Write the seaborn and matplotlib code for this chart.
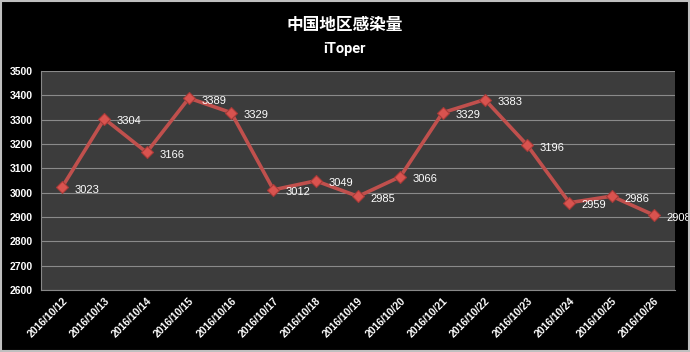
import matplotlib
matplotlib.use("Agg")
import matplotlib.pyplot as plt
import seaborn as sns
import pandas as pd
import numpy as np

dates = ["2016/10/12", "2016/10/13", "2016/10/14", "2016/10/15", "2016/10/16",
         "2016/10/17", "2016/10/18", "2016/10/19", "2016/10/20", "2016/10/21",
         "2016/10/22", "2016/10/23", "2016/10/24", "2016/10/25", "2016/10/26"]
values = [3023, 3304, 3166, 3389, 3329, 3012, 3049, 2985, 3066, 3329,
          3383, 3196, 2959, 2986, 2908]
yticks = [2600, 2700, 2800, 2900, 3000, 3100, 3200, 3300, 3400, 3500]
title = "中国地区感染量"
subtitle = "iToper"

sns.set_theme(style="dark")
plt.rcParams['font.family'] = ['Noto Sans CJK SC', 'DejaVu Sans']

df = pd.DataFrame({"date": dates, "value": values, "idx": np.arange(len(dates))})

fig = plt.figure(figsize=(6.9, 3.52), dpi=100, facecolor="black")
ax = fig.add_axes([0.0594, 0.176, 0.919, 0.622])
ax.set_facecolor("#3c3c3c")

sns.lineplot(data=df, x="idx", y="value", ax=ax, color="#c0504d", linewidth=2.6,
             marker="D", markersize=6.5, markeredgecolor="#a83a38", markerfacecolor="#d9534f",
             markeredgewidth=0.8)

lab_font = ["Liberation Sans", "DejaVu Sans"]
for i, v in enumerate(values):
    ax.annotate(str(v), (i, v), xytext=(9, -4), textcoords="offset points",
                color="white", fontsize=8, family=lab_font)

ax.set_xlim(-0.5, len(dates) - 0.5)
ax.set_ylim(2600, 3500)
ax.set_yticks(yticks)
ax.set_yticklabels([str(t) for t in yticks], color="white", fontsize=7.5,
                   family=lab_font, fontweight="bold")
ax.set_xticks(np.arange(len(dates)))
ax.set_xticklabels(dates, rotation=45, ha="right", rotation_mode="anchor",
                   color="white", fontsize=7.5, family=lab_font, fontweight="bold")
ax.set_xticks(np.arange(len(dates) + 1) - 0.5, minor=True)
ax.tick_params(axis="x", which="major", length=0, pad=4)
ax.tick_params(axis="x", which="minor", length=3, color="#888888", width=0.8, direction="in")
ax.tick_params(axis="y", which="major", length=3, color="#888888", width=0.8, pad=3)
ax.yaxis.grid(True, color="#8a8a8a", linewidth=0.8)
ax.xaxis.grid(False)
ax.set_xlabel("")
ax.set_ylabel("")
for s in ["top", "right"]:
    ax.spines[s].set_visible(False)
for s in ["left", "bottom"]:
    ax.spines[s].set_visible(True)
    ax.spines[s].set_color("#888888")
    ax.spines[s].set_linewidth(0.8)

fig.text(0.5, 0.93, title, color="white", fontsize=12, ha="center", va="center",
         fontweight="bold")
fig.text(0.5, 0.862, subtitle, color="white", fontsize=10.5, ha="center", va="center",
         fontweight="bold", family=["Roboto", "DejaVu Sans"])

border = matplotlib.patches.Rectangle((0.002, 0.004), 0.996, 0.992, transform=fig.transFigure,
                                      fill=False, edgecolor="#bfbfbf", linewidth=1.5)
fig.patches.append(border)

fig.savefig("out.png", dpi=100, facecolor="black")
